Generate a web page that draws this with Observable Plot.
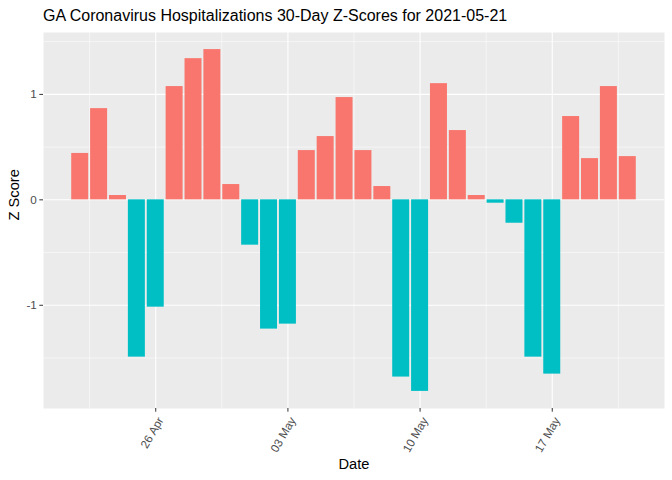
<!DOCTYPE html>
<html>
<head>
<meta charset="utf-8">
<script src="https://cdn.jsdelivr.net/npm/d3@7"></script>
<script src="https://cdn.jsdelivr.net/npm/@observablehq/plot@0.6"></script>
<style>
  html, body { margin: 0; padding: 0; background: #fff; }
  #title { box-sizing: border-box; height: 32px; padding: 8px 0 0 43px; font: 16px/16px "Liberation Sans", Arial, sans-serif; color: #000; white-space: nowrap; }
  svg { display: block; }
</style>
</head>
<body>
<div id="title">GA Coronavirus Hospitalizations 30-Day Z-Scores for 2021-05-21</div>
<div id="chart"></div>
<script>
const dates = ["2021-04-22","2021-04-23","2021-04-24","2021-04-25","2021-04-26","2021-04-27","2021-04-28","2021-04-29","2021-04-30","2021-05-01",
  "2021-05-02","2021-05-03","2021-05-04","2021-05-05","2021-05-06","2021-05-07","2021-05-08","2021-05-09","2021-05-10","2021-05-11",
  "2021-05-12","2021-05-13","2021-05-14","2021-05-15","2021-05-16","2021-05-17","2021-05-18","2021-05-19","2021-05-20","2021-05-21"];
const zScores = [0.44, 0.865, 0.041, -1.492, -1.018, 1.074, 1.339, 1.425, 0.145, -0.43,
  -1.226, -1.179, 0.467, 0.60, 0.97, 0.467, 0.126, -1.681, -1.817, 1.102,
  0.657, 0.041, -0.032, -0.222, -1.492, -1.653, 0.79, 0.391, 1.074, 0.41];
const xMajorTicks = ["2021-04-26","2021-05-03","2021-05-10","2021-05-17"];
const xMinorTicks = ["2021-04-22T12:00","2021-04-29T12:00","2021-05-06T12:00","2021-05-13T12:00","2021-05-20T12:00"];
const yMajorTicks = [-1, 0, 1];
const yMinorTicks = [-1.5, -0.5, 0.5, 1.5];

const parse = s => new Date(s.length > 10 ? s + "Z" : s + "T00:00Z");
const DAY = 864e5;
const data = dates.map((d, i) => ({date: parse(d), z: zScores[i], neg: zScores[i] < 0 ? "TRUE" : "FALSE"}));
const majorX = xMajorTicks.map(parse);
const minorX = xMinorTicks.map(parse);

// ggplot-like expansion (5%) of the data range
const half = 0.45 * DAY;
const xmin = d3.min(data, d => +d.date) - half, xmax = d3.max(data, d => +d.date) + half;
const xpad = 0.05 * (xmax - xmin);
const ymin = Math.min(0, d3.min(zScores)), ymax = Math.max(0, d3.max(zScores));
const ypad = 0.05 * (ymax - ymin);

const font = "Liberation Sans, Arial, sans-serif";
const chart = Plot.plot({
  width: 672,
  height: 448,
  marginTop: 0,
  marginLeft: 43,
  marginRight: 8,
  marginBottom: 72,
  style: {fontFamily: font, background: "#fff"},
  x: {type: "utc", domain: [new Date(xmin - xpad), new Date(xmax + xpad)]},
  y: {domain: [ymin - ypad, ymax + ypad]},
  color: {domain: ["FALSE", "TRUE"], range: ["#F8766D", "#00BFC4"]},
  marks: [
    Plot.frame({fill: "#EBEBEB", stroke: null}),
    Plot.ruleY(yMinorTicks, {stroke: "#fff", strokeWidth: 0.53}),
    Plot.ruleX(minorX, {stroke: "#fff", strokeWidth: 0.53}),
    Plot.ruleY(yMajorTicks, {stroke: "#fff", strokeWidth: 1.07}),
    Plot.ruleX(majorX, {stroke: "#fff", strokeWidth: 1.07}),
    Plot.rectY(data, {
      x1: d => new Date(+d.date - half),
      x2: d => new Date(+d.date + half),
      y: "z",
      fill: "neg"
    }),
    Plot.axisY({ticks: yMajorTicks, tickSize: 3.7, tickPadding: 3, stroke: "#333333", fill: "#4D4D4D", fontSize: 11.7, label: null, tickFormat: d => d < 0 ? "-" + Math.abs(d) : String(d)}),
    Plot.axisX({ticks: majorX, tickSize: 3.7, stroke: "#333333", fill: "none", label: null}),
    Plot.axisX({ticks: majorX, tickSize: 0, tickPadding: 6.7, tickRotate: -60, dx: 5, dy: 3, fill: "#4D4D4D", fontSize: 11.7, label: null, tickFormat: d3.utcFormat("%d %b")}),
    Plot.text(["Z Score"], {frameAnchor: "left", dx: -29, rotate: -90, fontSize: 14.67, fill: "#000", lineAnchor: "middle"}),
    Plot.text(["Date"], {frameAnchor: "bottom", dy: 56, fontSize: 14.67, fill: "#000", lineAnchor: "middle"})
  ]
});
document.getElementById("chart").appendChild(chart);
</script>
</body>
</html>
